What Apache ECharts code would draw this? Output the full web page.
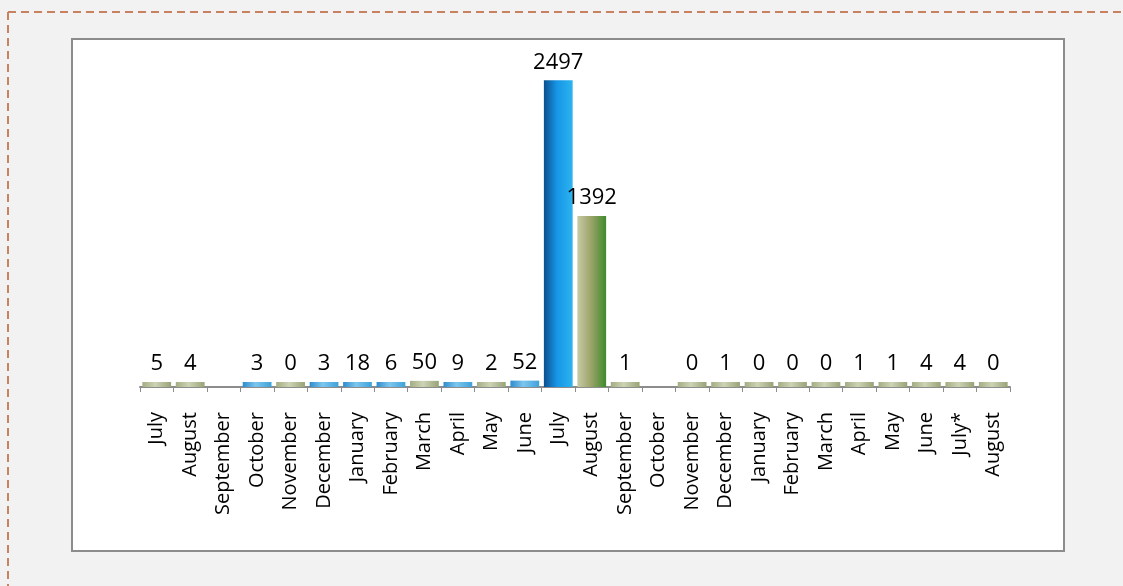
<!DOCTYPE html>
<html>
<head>
<meta charset="utf-8">
<script src="https://cdn.jsdelivr.net/npm/echarts@6/dist/echarts.min.js"></script>
<style>
html,body{margin:0;padding:0;background:#f2f2f2;}
#c{width:1123px;height:586px;}
</style>
</head>
<body>
<div id="c"></div>
<script>
// ---- data ----
const categories = ['July','August','September','October','November','December','January','February','March','April','May','June',
  'July','August','September','October','November','December','January','February','March','April','May','June','July*','August'];
const values = [5,4,null,3,0,3,18,6,50,9,2,52,2497,1392,1,null,0,1,0,0,0,1,1,4,4,0];

// ---- styling (tone per bar: s=small sage, b=small blue, B=big blue, G=big olive) ----
const tones = ['s','s','s','b','s','b','b','b','s','b','s','b','B','G','s','s','s','s','s','s','s','s','s','s','s','s'];
function grad(c0,c1,c2){return {type:'linear',x:0,y:0,x2:1,y2:0,colorStops:[{offset:0,color:c0},{offset:0.45,color:c1},{offset:1,color:c2}]};}
const toneColor = {
  s: grad('#a3ad83','#cdd3b4','#98a377'),
  b: grad('#2f8ccc','#7cc6ee','#3ea2da'),
  B: grad('#0b4f8e','#1795e6','#2cb4f0'),
  G: grad('#c7cba6','#9ea56c','#3f8a2c')
};

const chart = echarts.init(document.getElementById('c'), null, {renderer:'canvas'});
const data = values.map((v,i)=>({value:v,itemStyle:{color:toneColor[tones[i]]}}));

chart.setOption({
  backgroundColor:'#f2f2f2',
  animation:false,
  textStyle:{fontFamily:'Open Sans'},
  graphic:[
    {type:'line',shape:{x1:8,y1:12,x2:1123,y2:12},style:{stroke:'#c8825f',lineWidth:2,lineDash:[8,5]}},
    {type:'line',shape:{x1:8,y1:12,x2:8,y2:586},style:{stroke:'#c8825f',lineWidth:2,lineDash:[8,5]}},
    {type:'rect',shape:{x:72,y:39,width:992,height:512},style:{fill:'#ffffff',stroke:'#8c8c8c',lineWidth:2},z:-10}
  ],
  grid:{left:140,right:113,top:80,bottom:199,containLabel:false},
  xAxis:{
    type:'category',
    data:categories,
    axisLine:{lineStyle:{color:'#8c8c8c',width:2}},
    axisTick:{show:true,length:5,lineStyle:{color:'#8c8c8c'}},
    axisLabel:{rotate:90,interval:0,margin:25,fontSize:20,color:'#000',fontFamily:'Open Sans'}
  },
  yAxis:{type:'value',min:0,max:2500,show:false,splitLine:{show:false}},
  series:[{
    type:'bar',
    data:data,
    barWidth:'86%',
    barMinHeight:5,
    label:{show:true,position:'top',distance:7,fontSize:22,color:'#000',fontFamily:'Open Sans'}
  }]
});
</script>
</body>
</html>
